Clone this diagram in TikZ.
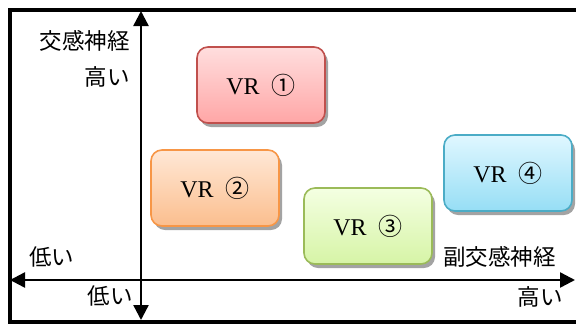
\documentclass[tikz,border=0pt]{standalone}
\usepackage{fontspec}
\setmainfont{Liberation Serif}
\newfontfamily\jp{Noto Sans CJK JP}
\usetikzlibrary{arrows.meta,shadows}
\begin{document}
\begin{tikzpicture}[x=1pt,y=-1pt,
  vrbox/.style={draw, line width=1.6pt, rounded corners=11pt,
    minimum width=128pt, minimum height=76pt, inner sep=0pt,
    font=\fontsize{24}{26}\selectfont,
    drop shadow={shadow xshift=3pt, shadow yshift=-4pt, fill=black!45, opacity=0.8}},
  axis/.style={line width=2.4pt, -{Triangle[length=15pt,width=15pt]}},
  jlabel/.style={font=\jp\fontsize{22.5}{24}\selectfont, inner sep=0pt}]
\useasboundingbox (0,0) rectangle (576,325);
% outer frame (right side runs past the page)
\draw[line width=4pt] (590,10) -- (10,10) -- (10,322) -- (590,322);
% axes
\coordinate (yc) at (141,160);
\coordinate (ytop) at (141,11);
\coordinate (ybot) at (141,320);
\coordinate (xc) at (300,280);
\coordinate (xl) at (10,280);
\coordinate (xr) at (575,280);
\draw[axis] (yc) -- (ytop);
\draw[axis] (yc) -- (ybot);
\draw[axis] (xc) -- (xl);
\draw[axis] (xc) -- (xr);
% axis labels
\node[jlabel, anchor=east] (sym) at (130,41) {交感神経};
\node[jlabel, anchor=east] (symhi) at (130,77) {高い};
\node[jlabel, anchor=west] (xlo) at (29,257) {低い};
\node[jlabel, anchor=west] (par) at (443,257) {副交感神経};
\node[jlabel, anchor=east] (ylo) at (133,296) {低い};
\node[jlabel, anchor=east] (xhi) at (563,297) {高い};
% boxes
\node[vrbox, draw={rgb,255:red,192;green,80;blue,77},
  top color={rgb,255:red,255;green,222;blue,222},
  bottom color={rgb,255:red,255;green,166;blue,166}] (vr1) at (261,85) {VR\enspace{\jp ①}};
\node[vrbox, draw={rgb,255:red,247;green,150;blue,70},
  top color={rgb,255:red,255;green,232;blue,214},
  bottom color={rgb,255:red,251;green,190;blue,142}] (vr2) at (215,188) {VR\enspace{\jp ②}};
\node[vrbox, draw={rgb,255:red,155;green,187;blue,89},
  top color={rgb,255:red,244;green,255;blue,226},
  bottom color={rgb,255:red,214;green,244;blue,166}] (vr3) at (368,226) {VR\enspace{\jp ③}};
\node[vrbox, draw={rgb,255:red,75;green,172;blue,198},
  top color={rgb,255:red,224;green,247;blue,255},
  bottom color={rgb,255:red,150;green,222;blue,245}] (vr4) at (508,173) {VR\enspace{\jp ④}};
\end{tikzpicture}
\end{document}
